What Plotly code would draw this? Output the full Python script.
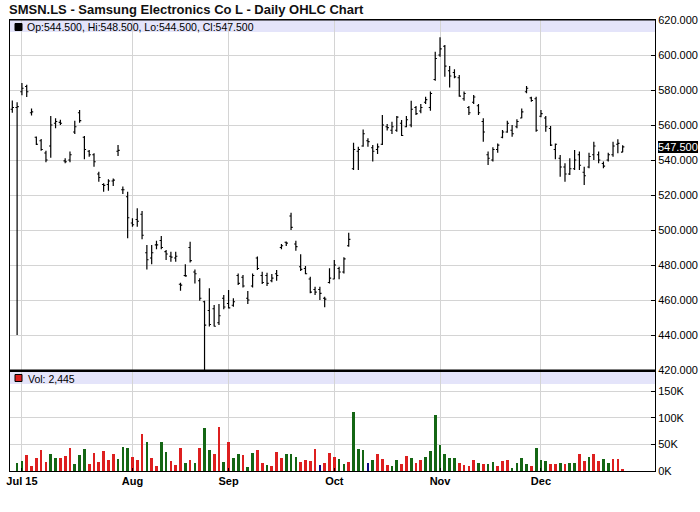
import pandas as pd
import plotly.graph_objects as go

# ---------------- data ----------------
dates = [d.strftime("%Y-%m-%d") for d in pd.bdate_range("2015-06-29", "2015-12-24")
         if d.strftime("%Y-%m-%d") != "2015-08-31"]

opens = [569, 570, 579, 582, 567, 553, 551, 544, 548, 561, 561.5, 539.5, 540, 556, 567, 553,
         545, 543, 532, 526, 526, 528, 545, 523, 519, 504, 506, 509, 487, 484, 491.5, 494,
         487.6, 485, 484, 469, 474, 490, 476, 471, 459, 454, 455, 447, 461, 458, 457, 474,
         473, 461, 468, 484, 474, 474, 471, 475, 490, 493, 508, 492, 479, 478, 472, 466,
         466, 461, 470, 472, 478, 476, 491, 535, 545, 548, 551, 547, 546, 549, 559, 557,
         557, 561, 559, 560, 570, 568, 573, 570, 586, 600, 605, 591, 590, 587, 575, 570,
         573, 571, 562, 543, 540, 546, 553, 556, 557, 559, 564, 579, 575.5, 575, 565, 564,
         558, 546, 541, 536, 532, 535, 543, 533, 536, 543, 543, 538, 540, 543, 549, 544.5]
highs = [574, 573, 584, 583, 569.5, 553.4, 552, 545.3, 565.2, 563.8, 563, 541, 544.8, 562.5,
         568.6, 553.7, 545.7, 543.8, 533.3, 526.7, 529, 529.5, 548.6, 524.8, 521.9, 506.7,
         512.4, 510.9, 491.4, 491.4, 493.9, 496.6, 488.6, 487.6, 487.6, 469.9, 480.4, 493.3,
         477.5, 472.4, 459.6, 466.7, 457.1, 457.7, 462.9, 465.7, 461, 475.2, 474.3, 465.1,
         475.2, 484.8, 476.2, 475.6, 474.9, 477.1, 492, 493.5, 509.9, 493.9, 486.1, 479.4,
         473.3, 467.6, 467.6, 461.9, 478.1, 482.9, 479, 484.4, 498.5, 549.9, 547.6, 557.5,
         552.4, 548.6, 549.5, 565.7, 560.6, 561.9, 565.2, 562.9, 565.2, 573.9, 570.9, 572,
         576.2, 579.1, 601.9, 610.1, 605.7, 593.7, 591.8, 588.6, 579.1, 570.9, 577.2, 572,
         563.8, 544.8, 547.3, 549.5, 557.2, 562.5, 560, 563.3, 569.5, 582.3, 576.2, 576.2,
         568.6, 565.2, 559.4, 549.5, 542.9, 538.1, 541, 545.7, 544.8, 536.2, 544.2, 550.5,
         544.8, 539.1, 544.2, 550.5, 551.8, 548.5]
lows = [567, 440, 577, 576, 565.5, 548.6, 545.3, 538.7, 541.3, 558.1, 560, 538.1, 538.7, 554.9,
        561.3, 540.4, 541.9, 536.2, 527.6, 521.9, 522.5, 525.2, 542.3, 520.6, 495.3, 501.9,
        501.9, 494.7, 477.5, 480.4, 489, 489, 482.9, 481.9, 481.9, 465.3, 473.3, 481.5,
        469.5, 459.6, 420, 444.8, 444.8, 445.7, 454.7, 455.2, 456.2, 468.6, 467.2, 457.7,
        467.2, 477.1, 469.1, 468, 470.1, 471, 489, 490.9, 500, 488.2, 476.6, 474.7,
        463.8, 462.9, 460, 455.8, 469.5, 471.8, 471.8, 475.2, 490.5, 534.3, 534.3, 547.6,
        547.6, 539.1, 543.4, 548.6, 556.8, 554.9, 556.2, 553.7, 558.7, 558.7, 565.7, 566.7,
        572, 568.2, 585.3, 599, 587.6, 581.5, 586.7, 576.2, 573.9, 565.7, 572, 565.7,
        550.5, 537.2, 539.1, 544.2, 552.4, 555.6, 553.3, 558.1, 563.8, 578.1, 573.3, 556.2,
        564.4, 556.2, 548, 540.4, 530.5, 527.6, 531.4, 534.3, 534.3, 525.7, 535.3, 540,
        538.1, 535.3, 539.1, 541.9, 543.8, 544.5]
closes = [570, 570.5, 581, 579, 567.5, 549, 546, 540, 560, 562, 561, 539, 543, 559, 562.5, 546,
          543, 539, 530, 525.5, 528, 528.5, 545.5, 523, 507, 503, 505, 497, 483, 487, 491.5, 490,
          486.3, 484.5, 485, 468.5, 473.8, 482.5, 475, 461, 445.6, 446, 445, 451, 456, 455.5, 459, 469.5,
          468, 460, 474, 478, 470, 469.5, 472.5, 474, 491, 492.5, 501.5, 490.5, 477.5, 475, 464.5, 464.5,
          463.8, 460.5, 472.5, 480, 476, 483.5, 494.7, 546, 546, 555, 550.5, 545, 547.5, 560, 558.5, 559,
          564.5, 554, 563, 569, 566.5, 570, 574.5, 578, 598, 603.5, 593.7, 588, 587.5, 576.5, 578, 567,
          576, 567, 556, 541, 546, 548.5, 556, 561, 555, 562, 567.5, 581, 574, 557, 566.5, 559,
          548.5, 549, 536, 532, 535, 540, 537, 531, 542, 548, 540, 536.5, 543, 548, 549.5, 547.5]
volumes = [0, 15700, 19400, 30700, 10000, 25000, 39500, 17500, 32600, 25000, 25000, 28800,
           43200, 13800, 30700, 41400, 13800, 34500, 17500, 37600, 21300, 32600, 23200, 45700,
           43900, 26900, 21300, 69500, 55100, 25000, 10000, 55100, 35700, 19400, 11900, 43900,
           15700, 21300, 15700, 43900, 81500, 40100, 32600, 83300, 17500, 55100, 25000, 32600,
           30700, 8100, 34500, 40100, 15700, 11900, 10000, 36300, 25000, 32600, 32600, 26900,
           17500, 21300, 19400, 41400, 11900, 15700, 34500, 26900, 23200, 13800, 17500, 110000,
           41400, 39500, 15700, 21300, 32600, 23200, 11900, 10000, 21300, 13800, 28800, 25000,
           15700, 21300, 26900, 38200, 105000, 49500, 32600, 25000, 25000, 15700, 11900, 10000,
           21300, 15700, 13800, 13800, 17500, 10000, 19400, 21300, 6300, 15700, 25000, 13800,
           9400, 43900, 20700, 18800, 13200, 13200, 15000, 13200, 15000, 15000, 31300, 18800,
           26300, 31300, 18800, 22600, 15000, 22600, 22600, 2445]
# change vs previous close as shown by the volume bar colours: u = up, d = down, n = unchanged
vol_direction = list("uuuddddduuddduuudddddduuudddudduudddududuudduduuduudduddduuudddd"
                     "nddduuduuunuddduuddudduuuuuuudddduduuddduuuudu"
                     "uudduduuddudduuddduudduuud")
month_ticks = ["2015-07-01", "2015-08-03", "2015-09-01", "2015-10-01", "2015-11-02", "2015-12-01"]
month_labels = ["Jul 15", "Aug", "Sep", "Oct", "Nov", "Dec"]
price_ticks = [420, 440, 460, 480, 500, 520, 540, 560, 580, 600, 620]
vol_ticks = [0, 50000, 100000, 150000]
vol_tick_labels = ["0K", "50K", "100K", "150K"]

# ---------------- styling ----------------
FONT = "Liberation Sans, Arial, sans-serif"
GRID = "#d4d4d4"
BAND = "#e4e4fa"
color_map = {"u": "#146614", "d": "#dd1f1f", "n": "#0a0a80"}
vol_colors = [color_map[c] for c in vol_direction[:len(volumes)]]

W, H = 700, 512
ML, MR, MT, MB = 10, 45, 20, 41
plot_h = H - MT - MB


def py(pix):
    """pixel row -> paper y"""
    return (H - MB - pix) / plot_h


price_dom = [py(370), 1.0]
vol_dom = [0.0, py(371)]

fig = go.Figure()
fig.add_trace(go.Ohlc(
    x=dates, open=opens, high=highs, low=lows, close=closes,
    xaxis="x2", yaxis="y2",
    increasing=dict(line=dict(color="black", width=1.2)),
    decreasing=dict(line=dict(color="black", width=1.2)),
    tickwidth=0.35, showlegend=False, hoverinfo="skip"))
fig.add_trace(go.Bar(
    x=dates, y=volumes, marker=dict(color=vol_colors, line=dict(width=0)),
    width=0.56, xaxis="x", yaxis="y", showlegend=False, hoverinfo="skip"))

xr = [-0.48, 133.73]
common_x = dict(type="category", range=xr, tickvals=month_ticks, showgrid=True,
                gridcolor=GRID, gridwidth=1, showline=True, linecolor="black",
                linewidth=1, mirror=True, zeroline=False, automargin=False,
                rangeslider=dict(visible=False))
common_y = dict(side="right", showgrid=True, gridcolor=GRID, showline=True,
                linecolor="black", linewidth=1, mirror=True, ticks="inside", ticklen=4,
                tickcolor="black", zeroline=False, automargin=False,
                tickfont=dict(family=FONT, size=11, color="black"))

fig.update_layout(
    width=W, height=H, margin=dict(l=ML, r=MR, t=MT, b=MB, autoexpand=False),
    paper_bgcolor="white", plot_bgcolor="white",
    font=dict(family=FONT, size=11, color="black"),
    bargap=0,
    xaxis=dict(**common_x, domain=[0, 1], anchor="y",
               ticktext=["<b>%s</b>" % t for t in month_labels],
               ticks="inside", ticklen=3, tickcolor="black",
               tickfont=dict(family=FONT, size=11, color="black")),
    xaxis2=dict(**common_x, domain=[0, 1], anchor="y2", matches="x",
                showticklabels=False, ticks=""),
    yaxis=dict(**common_y, domain=vol_dom, range=[0, 188000], anchor="x",
               tickvals=vol_ticks, ticktext=vol_tick_labels),
    yaxis2=dict(**common_y, domain=price_dom, range=[420, 620], anchor="x2",
                tickvals=price_ticks, tickformat=".3f"),
)


def square(y_anchor, color):
    return dict(type="rect", xref="paper", yref="paper", xsizemode="pixel",
                ysizemode="pixel", xanchor=0, yanchor=y_anchor, x0=5, x1=12, y0=-3.5, y1=-10.5,
                fillcolor=color, line=dict(color="black", width=1))


shapes = [
    # lavender header bands
    dict(type="rect", xref="paper", yref="paper", x0=0, x1=1, y0=py(32), y1=1.0,
         fillcolor=BAND, line=dict(width=0), layer="below"),
    dict(type="rect", xref="paper", yref="paper", x0=0, x1=1, y0=py(384), y1=py(372),
         fillcolor=BAND, line=dict(width=0), layer="below"),
    # thick panel separator
    dict(type="line", xref="paper", yref="paper", x0=0, x1=1, y0=py(370.8), y1=py(370.8),
         line=dict(color="black", width=2.5)),
    # top border of price panel
    dict(type="line", xref="paper", yref="paper", x0=0, x1=1, y0=1, y1=1,
         line=dict(color="black", width=1)),
    square(1.0, "black"),
    square(py(371), "#dd1f1f"),
]
fig.update_layout(shapes=shapes)

last = len(closes) - 1
hdr = "Op:%.3f, Hi:%.3f, Lo:%.3f, Cl:%.3f" % (opens[last], highs[last], lows[last], closes[last])
annotations = [
    dict(text="<b>SMSN.LS - Samsung Electronics Co L - Daily OHLC Chart</b>",
         xref="paper", yref="paper", x=0, y=1, xanchor="left", yanchor="middle",
         xshift=-3, yshift=11, showarrow=False, font=dict(family=FONT, size=13, color="#111111")),
    dict(text=hdr, xref="paper", yref="paper", x=0, y=1, xanchor="left",
         yanchor="middle", xshift=15, yshift=-6.5, showarrow=False,
         font=dict(family=FONT, size=10.5, color="black")),
    dict(text="Vol: {:,}".format(volumes[last]),
         xref="paper", yref="paper", x=0, y=py(371), xanchor="left", yanchor="middle",
         xshift=16, yshift=-7.5, showarrow=False, font=dict(family=FONT, size=10.5, color="black")),
    dict(text="%.3f" % closes[last], xref="paper", yref="y2", x=1, y=closes[last],
         xanchor="left", yanchor="middle", xshift=3, showarrow=False, bgcolor="black",
         borderpad=0, borderwidth=0, font=dict(family=FONT, size=11, color="white")),
]
fig.update_layout(annotations=annotations)

fig.write_html("out.html", config={"displayModeBar": False},
               post_script="document.body.style.margin='0';")
